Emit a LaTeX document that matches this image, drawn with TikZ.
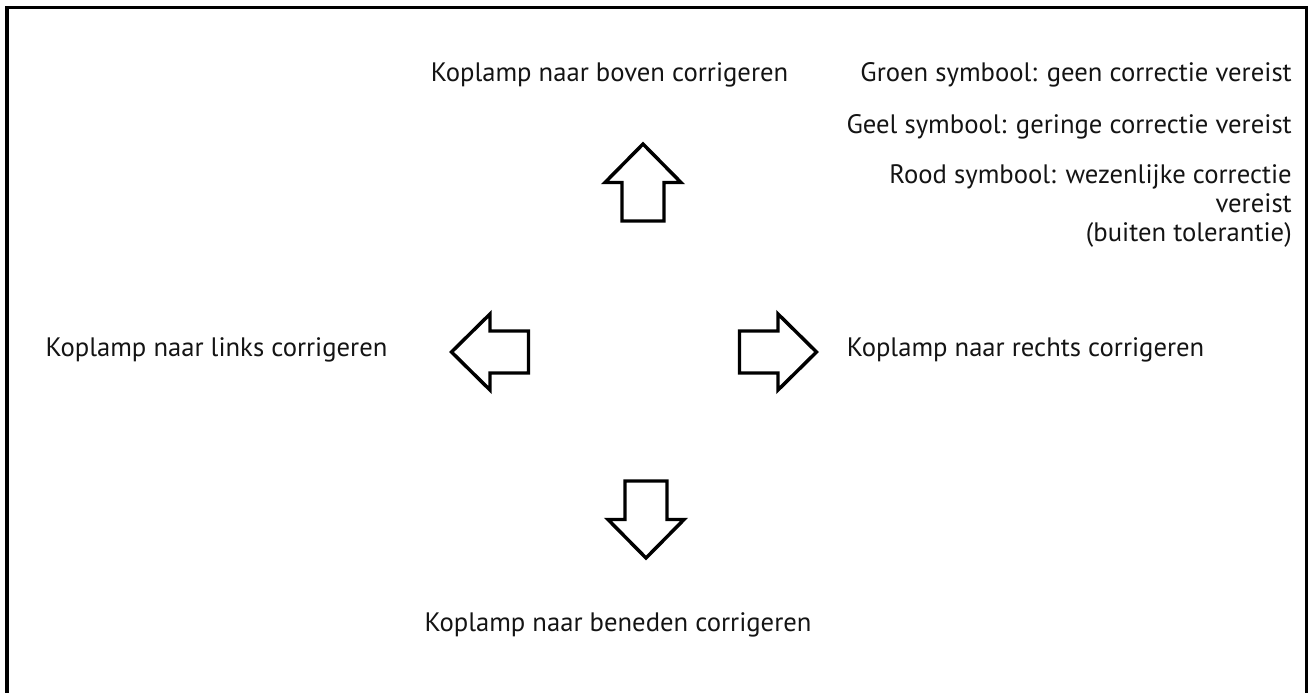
\documentclass[tikz,border=0pt]{standalone}
\usepackage{fontspec}
\setmainfont{PT Sans}
\usepackage{tikz}
\usetikzlibrary{positioning}
\definecolor{ink}{HTML}{141414}
\tikzset{
  frame/.style={draw=black, line width=2.5pt},
  arrowline/.style={draw=black, line width=2.6pt, line join=miter, fill=white},
  hint/.style={font=\fontsize{20}{21.5}\selectfont, text=ink, inner sep=0pt},
  bigarrow/.pic={\path[arrowline] (-38.5,-21) -- (0,-21) -- (0,-38) -- (38.5,0) -- (0,38) -- (0,21) -- (-38.5,21) -- cycle;}
}

\begin{document}
\begin{tikzpicture}[x=0.75pt,y=-0.75pt]
  \useasboundingbox (0,0) rectangle (1309,692);
  \draw[frame] (7,700) -- (7,7.5) -- (1306.5,7.5) -- (1306.5,700);

  \pic (arrowup) at (643,182.5) [rotate=90] {bigarrow};
  \pic (arrowleft) at (490,352) [rotate=180] {bigarrow};
  \pic (arrowright) at (778,352) {bigarrow};
  \pic (arrowdown) at (646,519.5) [rotate=-90] {bigarrow};

  \node[hint,anchor=base] (up) at (609.5,81) {Koplamp naar boven corrigeren};
  \node[hint,anchor=base] (left) at (216.5,356) {Koplamp naar links corrigeren};
  \node[hint,anchor=base] (right) at (1025.5,356) {Koplamp naar rechts corrigeren};
  \node[hint,anchor=base] (down) at (618,631) {Koplamp naar beneden corrigeren};

  \node[hint,anchor=base east] (green) at (1292,82) {Groen symbool: geen correctie vereist};
  \node[hint,anchor=base east] (yellow) at (1292,133) {Geel symbool: geringe correctie vereist};
  \node[hint,anchor=base east,align=right] (red) at (1292,241)
    {Rood symbool: wezenlijke correctie\\vereist\\(buiten tolerantie)};
\end{tikzpicture}
\end{document}
